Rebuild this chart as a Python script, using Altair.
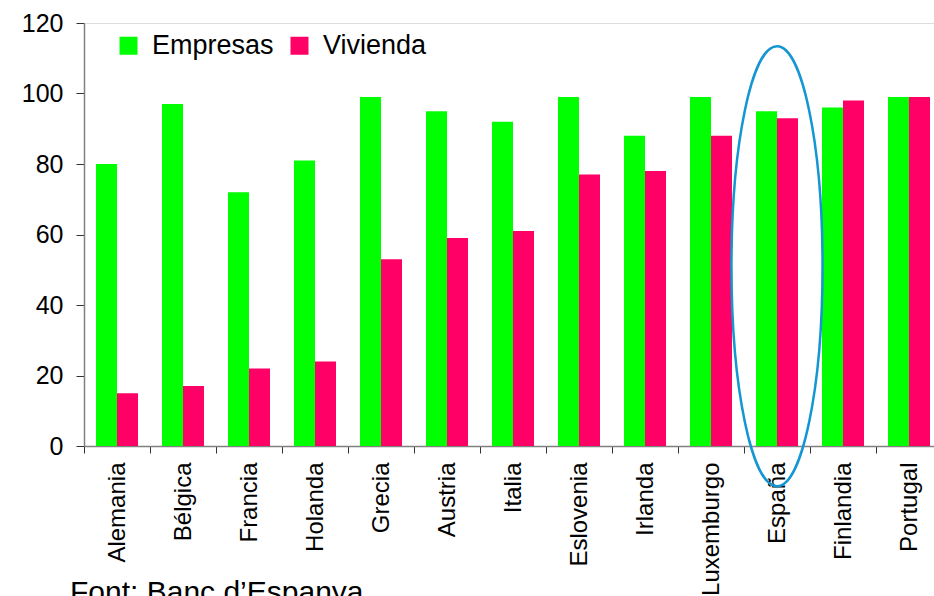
import altair as alt
import pandas as pd

countries = ["Alemania", "Bélgica", "Francia", "Holanda", "Grecia", "Austria", "Italia",
             "Eslovenia", "Irlanda", "Luxemburgo", "España", "Finlandia", "Portugal"]
empresas = [80, 97, 72, 81, 99, 95, 92, 99, 88, 99, 95, 96, 99]
vivienda = [15, 17, 22, 24, 53, 59, 61, 77, 78, 88, 93, 98, 99]
series = ["Empresas", "Vivienda"]
colors = ["#00FF00", "#FF0066"]
y_ticks = [0, 20, 40, 60, 80, 100, 120]
source_text = "Font: Banc d\u2019Espanya"
highlight_country = ["España"]
highlight_mid = [51]

rows = []
for c, e, v in zip(countries, empresas, vivienda):
    rows.append({"pais": c, "serie": series[0], "valor": e})
    rows.append({"pais": c, "serie": series[1], "valor": v})
df = pd.DataFrame(rows)

FONT = "Liberation Sans"

x_scale = alt.Scale(domain=countries, range=[0, 858], paddingInner=0, paddingOuter=0)
y_scale = alt.Scale(domain=[0, 120], nice=False, zero=True)

bars = alt.Chart(df).mark_bar().encode(
    x=alt.X("pais:N", sort=countries, scale=x_scale,
            axis=alt.Axis(title=None, labelAngle=-90, labelFontSize=24, labelFont=FONT,
                          labelColor="#000000", tickBand="extent", tickSize=7,
                          tickColor="#333333", domainColor="#808080", domainWidth=1.5,
                          labelPadding=9, labelOverlap=False, labelLimit=300)),
    xOffset=alt.XOffset("serie:N", sort=series,
                        scale=alt.Scale(domain=series, paddingInner=0, paddingOuter=0.571)),
    y=alt.Y("valor:Q", scale=y_scale,
            axis=alt.Axis(title=None, values=y_ticks, grid=False, labelFontSize=25,
                          labelFont=FONT, labelColor="#000000", tickSize=8,
                          tickColor="#333333", domainColor="#808080", domainWidth=1.5,
                          labelPadding=13)),
    color=alt.Color("serie:N", sort=series,
                    scale=alt.Scale(domain=series, range=colors),
                    legend=alt.Legend(title=None, orient="none", legendX=31, legendY=9,
                                      direction="horizontal", symbolType="square",
                                      symbolSize=324, symbolStrokeWidth=0,
                                      labelFontSize=27, labelFont=FONT, labelColor="#000000",
                                      labelOffset=10, columnPadding=12)),
)

k = 0.5523
a = 0.207
ka = k * a
ellipse_path = (f"M 0 -1 C {ka:.4f} -1 {a} {-k} {a} 0 "
                f"C {a} {k} {ka:.4f} 1 0 1 "
                f"C {-ka:.4f} 1 {-a} {k} {-a} 0 "
                f"C {-a} {-k} {-ka:.4f} -1 0 -1 Z")

hl = pd.DataFrame({"pais": highlight_country, "valor": highlight_mid})
ellipse = alt.Chart(hl).mark_point(shape=ellipse_path, filled=False, strokeWidth=2.5,
                                   color="#1496d2", opacity=1).encode(
    x=alt.X("pais:N", sort=countries, scale=x_scale),
    y=alt.Y("valor:Q", scale=y_scale),
    size=alt.value(193600),
)

src = alt.Chart(pd.DataFrame({"t": [source_text]})).mark_text(
    align="left", baseline="alphabetic", fontSize=30, font=FONT, color="#000000"
).encode(x=alt.value(-14), y=alt.value(579), text="t:N")

chart = alt.layer(bars, ellipse, src).properties(
    width=850, height=423,
    autosize=alt.AutoSizeParams(type="none"),
    padding={"left": 84, "top": 23, "right": 0, "bottom": 150},
).configure_view(stroke=None).configure(background="white")

chart.save("out.html", embed_options={"renderer": "svg", "actions": False})
